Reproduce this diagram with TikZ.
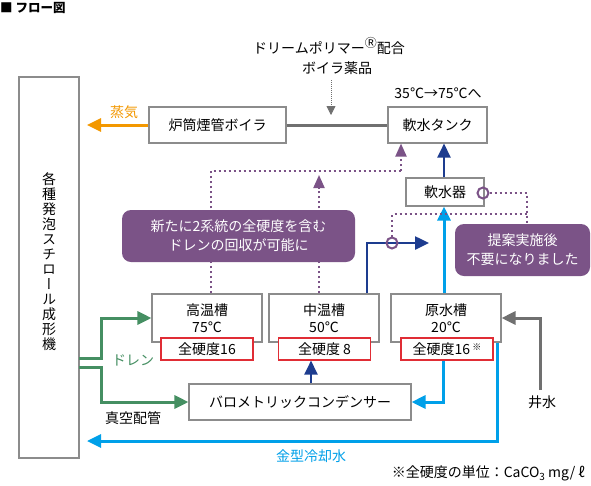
\documentclass[tikz,border=0pt]{standalone}
\usepackage{fontspec}
\setmainfont{Noto Sans CJK JP}
\newfontfamily\vjp[RawFeature=+vert]{Noto Sans CJK JP}
\usetikzlibrary{arrows.meta}
\definecolor{purp}{HTML}{7B5387}
\definecolor{orng}{HTML}{F39800}
\definecolor{grn}{HTML}{458F62}
\definecolor{lblu}{HTML}{00A0E9}
\definecolor{dblu}{HTML}{1D3C8F}
\definecolor{gline}{HTML}{707070}
\definecolor{bgray}{HTML}{8C8C8C}
\definecolor{redc}{HTML}{E02D35}
\tikzset{
  box/.style={draw=bgray, line width=1.1pt, fill=white, inner sep=0pt, align=center,
    font=\fontsize{14}{17}\selectfont},
  redbox/.style={draw=redc, line width=1.1pt, fill=white, inner sep=0pt,
    minimum width=92pt, minimum height=22pt, font=\fontsize{14}{17}\selectfont},
  callout/.style={fill=purp, rounded corners=9pt, text=white, align=center, inner sep=0pt,
    font=\fontsize{14}{19}\selectfont},
  bigtip/.style={-{Triangle[length=14pt,width=13pt]}},
  ptip/.style={-{Triangle[length=13pt,width=11pt]}},
  dots/.style={draw=purp, line width=2pt, dash pattern=on 2pt off 3pt},
  ring/.style={circle, draw=purp, line width=2pt, minimum size=11pt, inner sep=0pt},
  lab/.style={font=\fontsize{14}{16}\selectfont, inner sep=0pt},
}
\begin{document}
\begin{tikzpicture}[x=1pt,y=-1pt]
\useasboundingbox[fill=white] (0,0) rectangle (591,485);

% title
\node[anchor=west, inner sep=0pt, font=\bfseries\fontsize{12.5}{13}\selectfont] (title) at (0,8) {■ フロー図};

% boxes
\node[box, minimum width=60pt, minimum height=381pt] (mach) at (49,267.5) {};
\node[align=center, inner sep=0pt, font=\vjp\fontsize{14}{15}\selectfont] (machtxt) at (49,262)
  {各\\種\\発\\泡\\ス\\チ\\ロ\\ー\\ル\\成\\形\\機};
\node[box, minimum width=137pt, minimum height=36pt] (boiler) at (217.5,125) {炉筒煙管ボイラ};
\node[box, minimum width=99pt, minimum height=36pt] (tank) at (437.5,125) {軟水タンク};
\node[box, minimum width=78pt, minimum height=28pt] (soft) at (445,192) {軟水器};
\node[box, minimum width=110pt, minimum height=48pt] (high) at (207,318) {};
\node[box, minimum width=110pt, minimum height=48pt] (mid) at (324,318) {};
\node[box, minimum width=110pt, minimum height=48pt] (raw) at (446,318) {};
\node[lab, align=center, font=\fontsize{14}{17}\selectfont] (hightxt) at (207,318) {高温槽\\75℃};
\node[lab, align=center, font=\fontsize{14}{17}\selectfont] (midtxt) at (324,318) {中温槽\\50℃};
\node[lab, align=center, font=\fontsize{14}{17}\selectfont] (rawtxt) at (446,318) {原水槽\\20℃};
\node[redbox] (red1) at (207,349) {全硬度16};
\node[redbox] (red2) at (324.5,349) {全硬度 8};
\node[redbox] (red3) at (447,349) {全硬度16\,\raisebox{4pt}{\fontsize{9}{9}\selectfont ※}};
\node[box, minimum width=222pt, minimum height=36pt] (cond) at (300,402) {バロメトリックコンデンサー};
\node[callout, minimum width=233pt, minimum height=52pt] (call1) at (238.5,236)
  {新たに2系統の全硬度を含む\\ドレンの回収が可能に};
\node[callout, minimum width=135pt, minimum height=52pt] (call2) at (522.5,250)
  {提案実施後\\不要になりました};

% labels
\node[lab, text=orng] (steamlab) at (124,112) {蒸気};
\node[lab] (chemlab) at (329,46) {ドリームポリマー\raisebox{6pt}{\fontsize{12}{12}\selectfont Ⓡ}配合};
\node[lab] (chemlab2) at (337,68) {ボイラ薬品};
\node[lab] (templab) at (438,93) {35℃→75℃へ};
\node[lab, text=grn] (drainlab) at (133,360) {ドレン};
\node[lab] (vaclab) at (133,418) {真空配管};
\node[lab, text=lblu] (coollab) at (311,456) {金型冷却水};
\node[lab] (welllab) at (542,402) {井水};
\node[lab, anchor=east] (note) at (585,473) {※全硬度の単位：CaCO\raisebox{-3pt}{\fontsize{10}{10}\selectfont 3} mg/ ℓ};

% coordinates
\coordinate (steamend) at (87,125);
\coordinate (chem) at (331,80);
\coordinate (chemend) at (331,115);
\coordinate (pj) at (401,171);
\coordinate (m2) at (319,175);
\coordinate (bluetip) at (429,243);
\coordinate (pj2) at (527,214);
\coordinate (coolend) at (87,441);
\coordinate (well) at (540,390);
\coordinate (g1) at (79,358);
\coordinate (g2) at (79,367);

% connectors
\draw[orng, line width=3pt, bigtip] (boiler.west) -- (steamend);
\draw[gline, line width=3pt] (boiler.east) -- (tank.west);
\draw[gline, line width=0.8pt, dash pattern=on 1pt off 1pt, -{Triangle[length=9pt,width=9pt]}] (chem) -- (chemend);

\draw[dots] ([xshift=4pt]high.north) |- (pj);
\draw[dots, ptip] (pj) -- ([xshift=-36.5pt]tank.south);
\draw[dots, ptip] ([xshift=-5pt]mid.north) -- (m2);

\draw[dblu, line width=2.5pt, bigtip] ([xshift=-1pt]soft.north) -- ([xshift=-1pt]soft.north |- tank.south);
\draw[lblu, line width=3pt, bigtip] ([xshift=-1pt]soft.south |- raw.north) -- ([xshift=-1pt]soft.south);
\draw[dblu, line width=2.5pt, bigtip] ([xshift=43pt]mid.north) |- (bluetip);

\node[ring] (c1) at (392,243) {};
\node[ring] (c2) at (483,193) {};
\draw[dots] (c1.north) |- (pj2);
\draw[dots] (c2.east) -| ([xshift=4.5pt]call2.north);

\draw[dblu, line width=2.5pt, bigtip] ([xshift=11pt]cond.north) -- ([xshift=11pt]cond.north |- red2.south);
\draw[lblu, line width=3pt, bigtip] ([xshift=-4pt]red3.south) |- (cond.east);
\draw[lblu, line width=3pt, bigtip] ([xshift=51pt]raw.south) |- (coolend);
\draw[gline, line width=3pt, bigtip] (well) |- (raw.east);

\draw[grn, line width=3pt, bigtip] (g1) -- (101,358) |- (high.west);
\draw[grn, line width=3pt, bigtip] (g2) -- (101,367) |- (cond.west);
\end{tikzpicture}
\end{document}
